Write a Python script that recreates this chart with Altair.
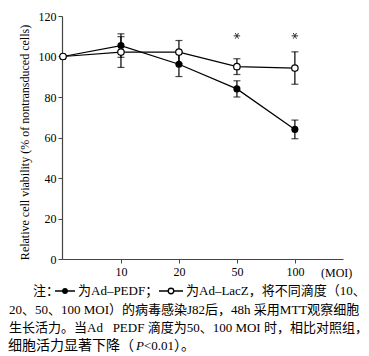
import altair as alt
import pandas as pd

# ---- data ----
moi_labels = ["0", "10", "20", "50", "100"]
positions = [0, 1, 2, 3, 4]
pedf_mean = [100, 105.4, 96.2, 84.0, 64.0]
pedf_err = [0, 5.8, 6.1, 4.0, 4.6]
lacz_mean = [100, 102.2, 102.2, 95.0, 94.3]
lacz_err = [0, 7.6, 5.7, 3.9, 8.0]
sig_positions = [3, 4]
sig_level = [110.2, 110.2]
y_ticks = [0, 20, 40, 60, 80, 100, 120]

caption_lines = [
    "20、50、100 MOI）的病毒感染J82后，48h 采用MTT观察细胞",
    "生长活力。当Ad\u2002 PEDF 滴度为50、100 MOI 时，相比对照组，",
]

rows = []
for series, means, errs in (("Ad-PEDF", pedf_mean, pedf_err), ("Ad-LacZ", lacz_mean, lacz_err)):
    for p, lab, m, e in zip(positions, moi_labels, means, errs):
        rows.append(dict(series=series, pos=p, moi=lab, mean=m, lo=m - e, hi=m + e, err=e))
df = pd.DataFrame(rows)

SERIF = "Liberation Serif, Noto Sans CJK SC"
W, H = 281, 243
OX, OY = 62, 16  # plot origin in page pixels

xscale = alt.Scale(domain=[-0.017, 4.83], nice=False, zero=False)
yscale = alt.Scale(domain=[0, 120], nice=False, zero=False)
label_expr = "[" + ",".join("'%s'" % l for l in moi_labels) + "][datum.value]"

x_enc = alt.X(
    "pos:Q", scale=xscale,
    axis=alt.Axis(values=[1, 2, 3, 4], labelExpr=label_expr, title=None, grid=False,
                  tickSize=4, domainColor="#444", tickColor="#444", domainWidth=1.2,
                  labelFont=SERIF, labelFontSize=12, labelColor="black", labelPadding=3),
)
y_enc = alt.Y(
    "mean:Q", scale=yscale,
    axis=alt.Axis(values=y_ticks, title="Relative cell viability (% of nontransduced cells)",
                  grid=False, tickSize=4, domainColor="#444", tickColor="#444", domainWidth=1.2,
                  labelFont=SERIF, labelFontSize=12, labelColor="black", labelPadding=2,
                  titleFont=SERIF, titleFontSize=12, titleFontWeight="normal",
                  titleColor="black", titlePadding=7, titleY=126),
)

base = alt.Chart(df)
lines = base.mark_line(color="black", strokeWidth=1.2).encode(x=x_enc, y=y_enc, detail="series:N")
errdf = base.transform_filter("datum.err > 0")
err_rule = errdf.mark_rule(color="black", strokeWidth=1.2).encode(x="pos:Q", y="lo:Q", y2="hi:Q")
cap_lo = errdf.mark_tick(color="black", orient="horizontal", size=7, thickness=1.2).encode(x="pos:Q", y="lo:Q")
cap_hi = errdf.mark_tick(color="black", orient="horizontal", size=7, thickness=1.2).encode(x="pos:Q", y="hi:Q")
pts_pedf = base.transform_filter("datum.series == 'Ad-PEDF'").mark_point(
    shape="circle", filled=True, color="black", size=50, opacity=1).encode(x="pos:Q", y="mean:Q")
pts_lacz = base.transform_filter("datum.series == 'Ad-LacZ'").mark_point(
    shape="circle", filled=True, fill="white", stroke="black", strokeWidth=1.2, size=42,
    opacity=1).encode(x="pos:Q", y="mean:Q")

STAR = "M-1,0L1,0M-0.5,-0.87L0.5,0.87M-0.5,0.87L0.5,-0.87"
sig = alt.Chart(pd.DataFrame({"pos": sig_positions, "v": sig_level})).mark_point(
    shape=STAR, filled=False, stroke="#333", strokeWidth=1, size=42, opacity=1
).encode(x="pos:Q", y="v:Q")

moi = alt.Chart(pd.DataFrame({"pos": [4.72], "t": ["(MOI)"]})).mark_text(
    font=SERIF, fontSize=12, baseline="middle", color="black").encode(
    x="pos:Q", y=alt.value(H + 14), text="t:N")


def txt(s, x, y, style="normal", size=13):
    return alt.Chart(pd.DataFrame({"t": [s]})).mark_text(
        font=SERIF, fontSize=size, align="left", baseline="middle", color="black", fontStyle=style
    ).encode(x=alt.value(x - OX), y=alt.value(y - OY), text="t:N")


def sym(x0, x1, y, open_):
    r = alt.Chart(pd.DataFrame({"a": [0]})).mark_rule(color="black", strokeWidth=1.5).encode(
        x=alt.value(x0 - OX), x2=alt.value(x1 - OX), y=alt.value(y - OY))
    if open_:
        p = alt.Chart(pd.DataFrame({"a": [0]})).mark_point(
            shape="circle", filled=True, fill="white", stroke="black", strokeWidth=1.3, size=30, opacity=1
        ).encode(x=alt.value((x0 + x1) / 2 - OX), y=alt.value(y - OY))
    else:
        p = alt.Chart(pd.DataFrame({"a": [0]})).mark_point(
            shape="circle", filled=True, color="black", size=34, opacity=1
        ).encode(x=alt.value((x0 + x1) / 2 - OX), y=alt.value(y - OY))
    return r + p


L1, L2, L3, L4 = 291, 310, 328, 346
caption = (
    txt("注：", 33, L1) + sym(55, 75, L1, False) + txt("为Ad–PEDF；", 78, L1)
    + sym(159, 183, L1, True) + txt("为Ad–LacZ，将不同滴度（10、", 186, L1)
    + txt(caption_lines[0], 9, L2) + txt(caption_lines[1], 9, L3)
    + txt("细胞活力显著下降（", 8, L4, size=14) + txt("P", 136, L4, "italic")
    + txt("<0.01", 144, L4) + txt("）。", 174, L4, size=14)
)

chart = alt.layer(lines, err_rule, cap_lo, cap_hi, pts_pedf, pts_lacz, sig, moi, caption).properties(
    width=W, height=H,
    padding={"left": OX, "top": OY, "right": 369 - OX - W, "bottom": 356 - OY - H},
    autosize=alt.AutoSizeParams(type="none"),
    background="white",
).configure_view(stroke=None)

chart.save("out.html", embed_options={"renderer": "svg", "actions": False})
